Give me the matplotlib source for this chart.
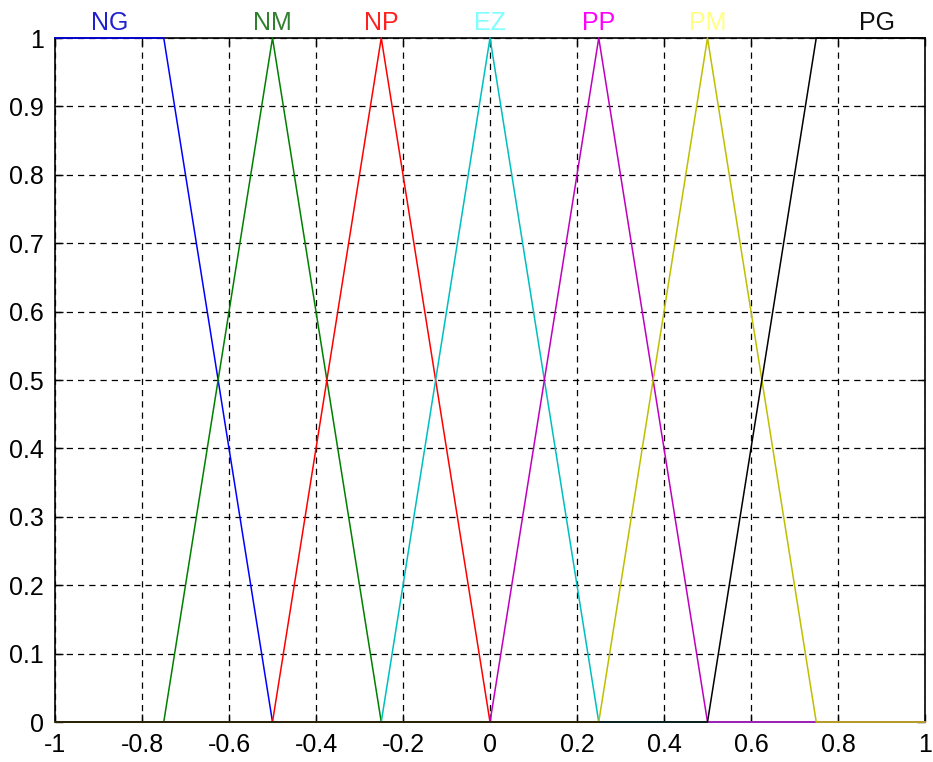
import matplotlib.pyplot as plt

# membership functions (breakpoints)
names = ["NG", "NM", "NP", "EZ", "PP", "PM", "PG"]

ng_x = [-1.0, -0.75, -0.5, 1.0]
ng_y = [1, 1, 0, 0]
nm_x = [-1.0, -0.75, -0.5, -0.25, 1.0]
nm_y = [0, 0, 1, 0, 0]
np_x = [-1.0, -0.5, -0.25, 0.0, 1.0]
np_y = [0, 0, 1, 0, 0]
ez_x = [-1.0, -0.25, 0.0, 0.25, 1.0]
ez_y = [0, 0, 1, 0, 0]
pp_x = [-1.0, 0.0, 0.25, 0.5, 1.0]
pp_y = [0, 0, 1, 0, 0]
pm_x = [-1.0, 0.25, 0.5, 0.75, 1.0]
pm_y = [0, 0, 1, 0, 0]
pg_x = [-1.0, 0.5, 0.75, 1.0]
pg_y = [0, 0, 1, 1]

mf_x = [ng_x, nm_x, np_x, ez_x, pp_x, pm_x, pg_x]
mf_y = [ng_y, nm_y, np_y, ez_y, pp_y, pm_y, pg_y]

label_x = [-0.875, -0.5, -0.25, 0.0, 0.25, 0.5, 0.89]

line_colors = ["#0000ff", "#008000", "#ff0000", "#00bfbf",
               "#bf00bf", "#bfbf00", "#000000"]
label_colors = ["#2020d0", "#308030", "#ff2020", "#80ffff",
                "#ff00ff", "#ffff80", "#101010"]

x_ticks = [-1, -0.8, -0.6, -0.4, -0.2, 0, 0.2, 0.4, 0.6, 0.8, 1]
x_tick_labels = ["-1", "-0.8", "-0.6", "-0.4", "-0.2", "0",
                 "0.2", "0.4", "0.6", "0.8", "1"]
y_ticks = [0, 0.1, 0.2, 0.3, 0.4, 0.5, 0.6, 0.7, 0.8, 0.9, 1]
y_tick_labels = ["0", "0.1", "0.2", "0.3", "0.4", "0.5",
                 "0.6", "0.7", "0.8", "0.9", "1"]

plt.rcParams["font.family"] = ["Liberation Sans", "DejaVu Sans"]

fig = plt.figure(figsize=(9.33, 7.62), dpi=100)
ax = fig.add_axes([55 / 933, 40 / 762, 870 / 933, 684 / 762])

for i in range(len(names)):
    ax.plot(mf_x[i], mf_y[i], color=line_colors[i], lw=1.1,
            clip_on=False, zorder=3)
    ax.text(label_x[i], 1.012, names[i], color=label_colors[i],
            fontsize=18, ha="center", va="baseline")

ax.set_xlim(-1, 1)
ax.set_ylim(0, 1)
ax.set_xticks(x_ticks)
ax.set_xticklabels(x_tick_labels)
ax.set_yticks(y_ticks)
ax.set_yticklabels(y_tick_labels)

ax.grid(True, color="black", linestyle=(0, (5, 4)), lw=0.9)
ax.tick_params(direction="in", length=6, width=1.0, top=True, right=True,
               labelsize=18, pad=8, colors="black")
for s in ax.spines.values():
    s.set_linewidth(1.2)
    s.set_zorder(2.5)

fig.savefig("out.png", dpi=100)
